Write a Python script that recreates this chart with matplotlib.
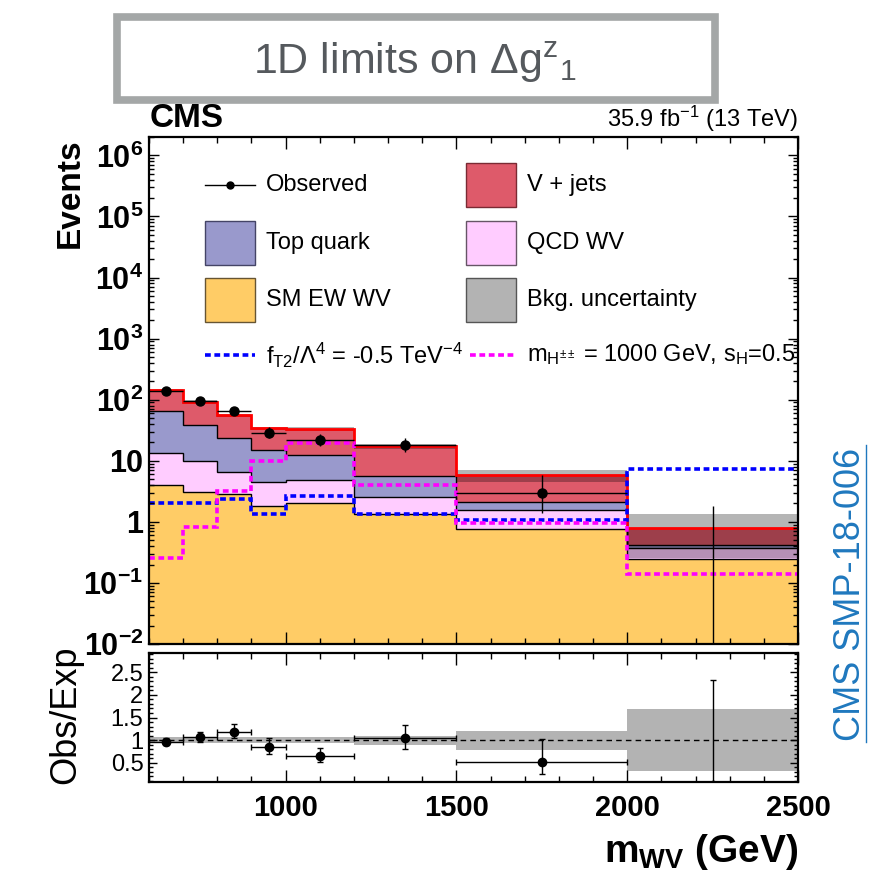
import numpy as np
import matplotlib
matplotlib.use('Agg')
import matplotlib.pyplot as plt
from matplotlib.patches import Rectangle
from matplotlib.lines import Line2D
from matplotlib.ticker import FixedLocator, MultipleLocator, LogLocator, NullFormatter

plt.rcParams['font.family'] = ['Liberation Sans', 'DejaVu Sans']
plt.rcParams['mathtext.fontset'] = 'custom'
plt.rcParams['mathtext.rm'] = 'Liberation Sans'
plt.rcParams['mathtext.it'] = 'Liberation Sans:italic'
plt.rcParams['mathtext.bf'] = 'Liberation Sans:bold'

# ---------------- data ----------------
bin_edges = [600, 700, 800, 900, 1000, 1200, 1500, 2000, 2500]
sm_ew_wv = [4.0, 3.1, 2.9, 1.84, 2.04, 1.36, 0.77, 0.25]
qcd_wv = [9.6, 6.8, 3.7, 2.62, 2.86, 1.24, 0.81, 0.12]
top_quark = [52.4, 28.7, 17.2, 10.4, 7.4, 3.0, 0.54, 0.05]
v_jets = [76.0, 52.4, 31.7, 19.1, 21.2, 11.8, 3.64, 0.37]
bkg_rel_unc = [0.07, 0.07, 0.07, 0.07, 0.07, 0.10, 0.21, 0.68]
observed = [137, 97, 66, 29, 22, 18, 3, 0]
obs_err_lo = [11.7, 9.8, 8.1, 5.4, 4.7, 4.2, 1.63, 0.0]
obs_err_hi = [12.7, 10.9, 9.1, 6.4, 5.7, 5.3, 2.92, 1.84]
ft2_signal = [2.02, 2.02, 2.41, 1.35, 2.67, 1.35, 1.08, 7.4]
hpp_signal = [0.26, 0.81, 3.26, 10.1, 19.5, 3.94, 0.94, 0.14]

y_major = [1e-2, 1e-1, 1, 10, 1e2, 1e3, 1e4, 1e5, 1e6]
y_major_labels = [r'$\mathbf{10}^{\mathbf{-2}}$', r'$\mathbf{10}^{\mathbf{-1}}$', '1', '10',
                  r'$\mathbf{10}^{\mathbf{2}}$', r'$\mathbf{10}^{\mathbf{3}}$',
                  r'$\mathbf{10}^{\mathbf{4}}$', r'$\mathbf{10}^{\mathbf{5}}$',
                  r'$\mathbf{10}^{\mathbf{6}}$']
x_major = [1000, 1500, 2000, 2500]
ratio_ticks = [0.5, 1, 1.5, 2, 2.5]
ratio_tick_labels = ['0.5', '1', '1.5', '2', '2.5']

# ---------------- derived ----------------
edges = np.array(bin_edges, float)
centers = 0.5 * (edges[1:] + edges[:-1])
halfw = 0.5 * (edges[1:] - edges[:-1])
c1 = np.array(sm_ew_wv)
c2 = c1 + np.array(qcd_wv)
c3 = c2 + np.array(top_quark)
c4 = c3 + np.array(v_jets)
unc = np.array(bkg_rel_unc)
obs = np.array(observed, float)
elo = np.array(obs_err_lo)
ehi = np.array(obs_err_hi)

col_ew = '#ffcc66'
col_qcd = '#ffccff'
col_top = '#9999cc'
col_vj = '#de5a6a'

fig = plt.figure(figsize=(8.75, 8.81), dpi=100)
W, H = 875.0, 881.0
ax = fig.add_axes([149 / W, 1 - 644 / H, 649 / W, 507 / H])
rax = fig.add_axes([149 / W, 1 - 782 / H, 649 / W, 129 / H])

base = 1e-4
ax.stairs(c1, edges, baseline=base, fill=True, color=col_ew, lw=0)
ax.stairs(c2, edges, baseline=c1, fill=True, color=col_qcd, lw=0)
ax.stairs(c3, edges, baseline=c2, fill=True, color=col_top, lw=0)
ax.stairs(c4, edges, baseline=c3, fill=True, color=col_vj, lw=0)
for c in (c1, c2, c3):
    ax.stairs(c, edges, baseline=None, color='k', lw=1.0)
# uncertainty band
ax.stairs(c4 * (1 + unc), edges, baseline=c4 * (1 - unc), fill=True,
          color='k', alpha=0.29, lw=0)
ax.stairs(c4, edges, baseline=None, color='#ff0000', lw=2.0)
# signals
ax.stairs(ft2_signal, edges, baseline=None, color='#0000ff', lw=2.6,
          linestyle=(0, (1.6, 1.0)))
ax.stairs(hpp_signal, edges, baseline=None, color='#ff00ff', lw=2.6,
          linestyle=(0, (1.6, 1.0)))
# data
m = obs > 0
ax.errorbar(centers[m], obs[m], xerr=halfw[m], yerr=[elo[m], ehi[m]], fmt='o',
            color='k', ms=6.5, elinewidth=1.0, capsize=0)
ax.vlines(centers[~m], base, ehi[~m], color='k', lw=1.0)

ax.set_xlim(600, 2500)
ax.set_yscale('log')
ax.set_ylim(1e-2, 2e6)
ax.set_yticks(y_major)
ax.set_yticklabels(y_major_labels)
ax.yaxis.set_minor_locator(LogLocator(base=10, subs=np.arange(2, 10), numticks=100))
ax.yaxis.set_minor_formatter(NullFormatter())
ax.xaxis.set_major_locator(FixedLocator(x_major))
ax.xaxis.set_minor_locator(MultipleLocator(100))
ax.tick_params(axis='x', which='both', labelbottom=False)
for a in (ax, rax):
    a.tick_params(which='both', direction='in', top=True, right=True, width=1.0)
    for s in a.spines.values():
        s.set_linewidth(1.6)
ax.tick_params(axis='x', which='major', length=8.5)
ax.tick_params(axis='x', which='minor', length=4.3)
ax.tick_params(axis='y', which='major', length=7, pad=4)
ax.tick_params(axis='y', which='minor', length=3.5)
for lab in ax.get_yticklabels():
    lab.set_fontsize(22)
    lab.set_fontweight('bold')

# ---------------- legend (drawn in axes coords) ----------------
def fy(ypix):
    return (644 - ypix) / 507.0

def fx(xpix):
    return (xpix - 149) / 649.0

bw, bh = fx(255) - fx(205), 44 / 507.0
lx1, lx2 = fx(205), fx(466)
tx1, tx2 = fx(266), fx(527)
rows = [fy(185), fy(243), fy(300), fy(355)]
fs = 17
ax.plot([lx1, lx1 + bw], [rows[0]] * 2, color='k', lw=1.0, transform=ax.transAxes)
ax.plot([lx1 + bw / 2], [rows[0]], 'o', color='k', ms=5, transform=ax.transAxes)
ax.text(tx1, rows[0], 'Observed', transform=ax.transAxes, ha='left', va='center', fontsize=fs)
entries = [(lx2, rows[0], col_vj, '#7a2a33', 'V + jets', tx2),
           (lx1, rows[1], col_top, '#444466', 'Top quark', tx1),
           (lx2, rows[1], col_qcd, '#665566', 'QCD WV', tx2),
           (lx1, rows[2], col_ew, '#665533', 'SM EW WV', tx1),
           (lx2, rows[2], '#b3b3b3', '#555555', 'Bkg. uncertainty', tx2)]
for x0, yc, fc, ec, lab, tx in entries:
    ax.add_patch(Rectangle((x0, yc - bh / 2), bw, bh, transform=ax.transAxes,
                           facecolor=fc, edgecolor=ec, lw=1.0))
    ax.text(tx, yc, lab, transform=ax.transAxes, ha='left', va='center', fontsize=fs)
ax.plot([lx1, lx1 + bw], [rows[3]] * 2, color='#0000ff', lw=2.6,
        linestyle=(0, (1.6, 1.0)), transform=ax.transAxes)
ax.text(tx1, rows[3], r'f$_{\mathrm{T2}}$/Λ$^{\mathrm{4}}$ = -0.5 TeV$^{\mathrm{-4}}$',
        transform=ax.transAxes, ha='left', va='center', fontsize=fs)
ax.plot([fx(470), fx(515)], [rows[3]] * 2, color='#ff00ff', lw=2.6,
        linestyle=(0, (1.6, 1.0)), transform=ax.transAxes)
ax.text(tx2, rows[3], r'm$_{\mathrm{H}^{\pm\pm}}$ = 1000 GeV, s$_{\mathrm{H}}$=0.5',
        transform=ax.transAxes, ha='left', va='center', fontsize=fs)

# ---------------- ratio panel ----------------
rax.stairs(1 + unc, edges, baseline=1 - unc, fill=True, color='#b3b3b3', lw=0)
rax.axhline(1.0, color='k', lw=1.0, linestyle=(0, (4, 3)))
ratio = obs / c4
rax.errorbar(centers, ratio, xerr=np.where(m, halfw, 0), yerr=[elo / c4, ehi / c4],
             fmt='o', color='k', ms=6, elinewidth=1.0, capsize=2.2, capthick=1.0)
rax.set_xlim(600, 2500)
rax.set_ylim(0.07, 2.93)
rax.set_yticks(ratio_ticks)
rax.set_yticklabels(ratio_tick_labels)
rax.yaxis.set_minor_locator(MultipleLocator(0.1))
rax.xaxis.set_major_locator(FixedLocator(x_major))
rax.xaxis.set_minor_locator(MultipleLocator(100))
rax.set_xticklabels([str(v) for v in x_major])
rax.tick_params(axis='x', which='major', length=8.5, pad=9, labelsize=21)
rax.tick_params(axis='x', which='minor', length=4.3)
rax.tick_params(axis='y', which='major', length=6, pad=4, labelsize=17)
rax.tick_params(axis='y', which='minor', length=3)
for lab in rax.get_xticklabels():
    lab.set_fontweight('bold')

# ---------------- labels & annotations ----------------
fig.text(70 / W, 1 - 138 / H, 'Events', rotation=90, ha='center', va='top',
         fontsize=24, fontweight='bold')
fig.text(66 / W, 1 - 715 / H, 'Obs/Exp', rotation=90, ha='center', va='center',
         fontsize=26)
fig.text(798 / W, 1 - 862 / H, r'$\mathbf{m_{WV}}$ (GeV)', ha='right', va='baseline',
         fontsize=28, fontweight='bold')
fig.text(150 / W, 1 - 127 / H, 'CMS', ha='left', va='baseline', fontsize=24,
         fontweight='bold')
fig.text(798 / W, 1 - 127 / H, r'35.9 fb$^{\mathrm{-1}}$ (13 TeV)', ha='right',
         va='baseline', fontsize=17)

# title box
fig.patches.append(Rectangle((116.5 / W, 1 - 99.5 / H), (714.5 - 116.5) / W, 83 / H,
                             transform=fig.transFigure, facecolor='white',
                             edgecolor='#a4a7a7', lw=5.5, zorder=0))
fig.text(415 / W, 1 - 62 / H, r'1D limits on Δg$^{\mathrm{z}}$$_{\mathrm{1}}$',
         ha='center', va='center', fontsize=31, color='#55595d')

# side reference
side_col = '#1f78be'
fig.text(850 / W, 1 - 594 / H, 'CMS SMP-18-006', rotation=90, ha='center',
         va='center', fontsize=26, color=side_col)
fig.add_artist(Line2D([866 / W, 866 / W], [1 - 445 / H, 1 - 742 / H],
                      transform=fig.transFigure, color=side_col, lw=1.0))

fig.savefig('out.png', dpi=100)
